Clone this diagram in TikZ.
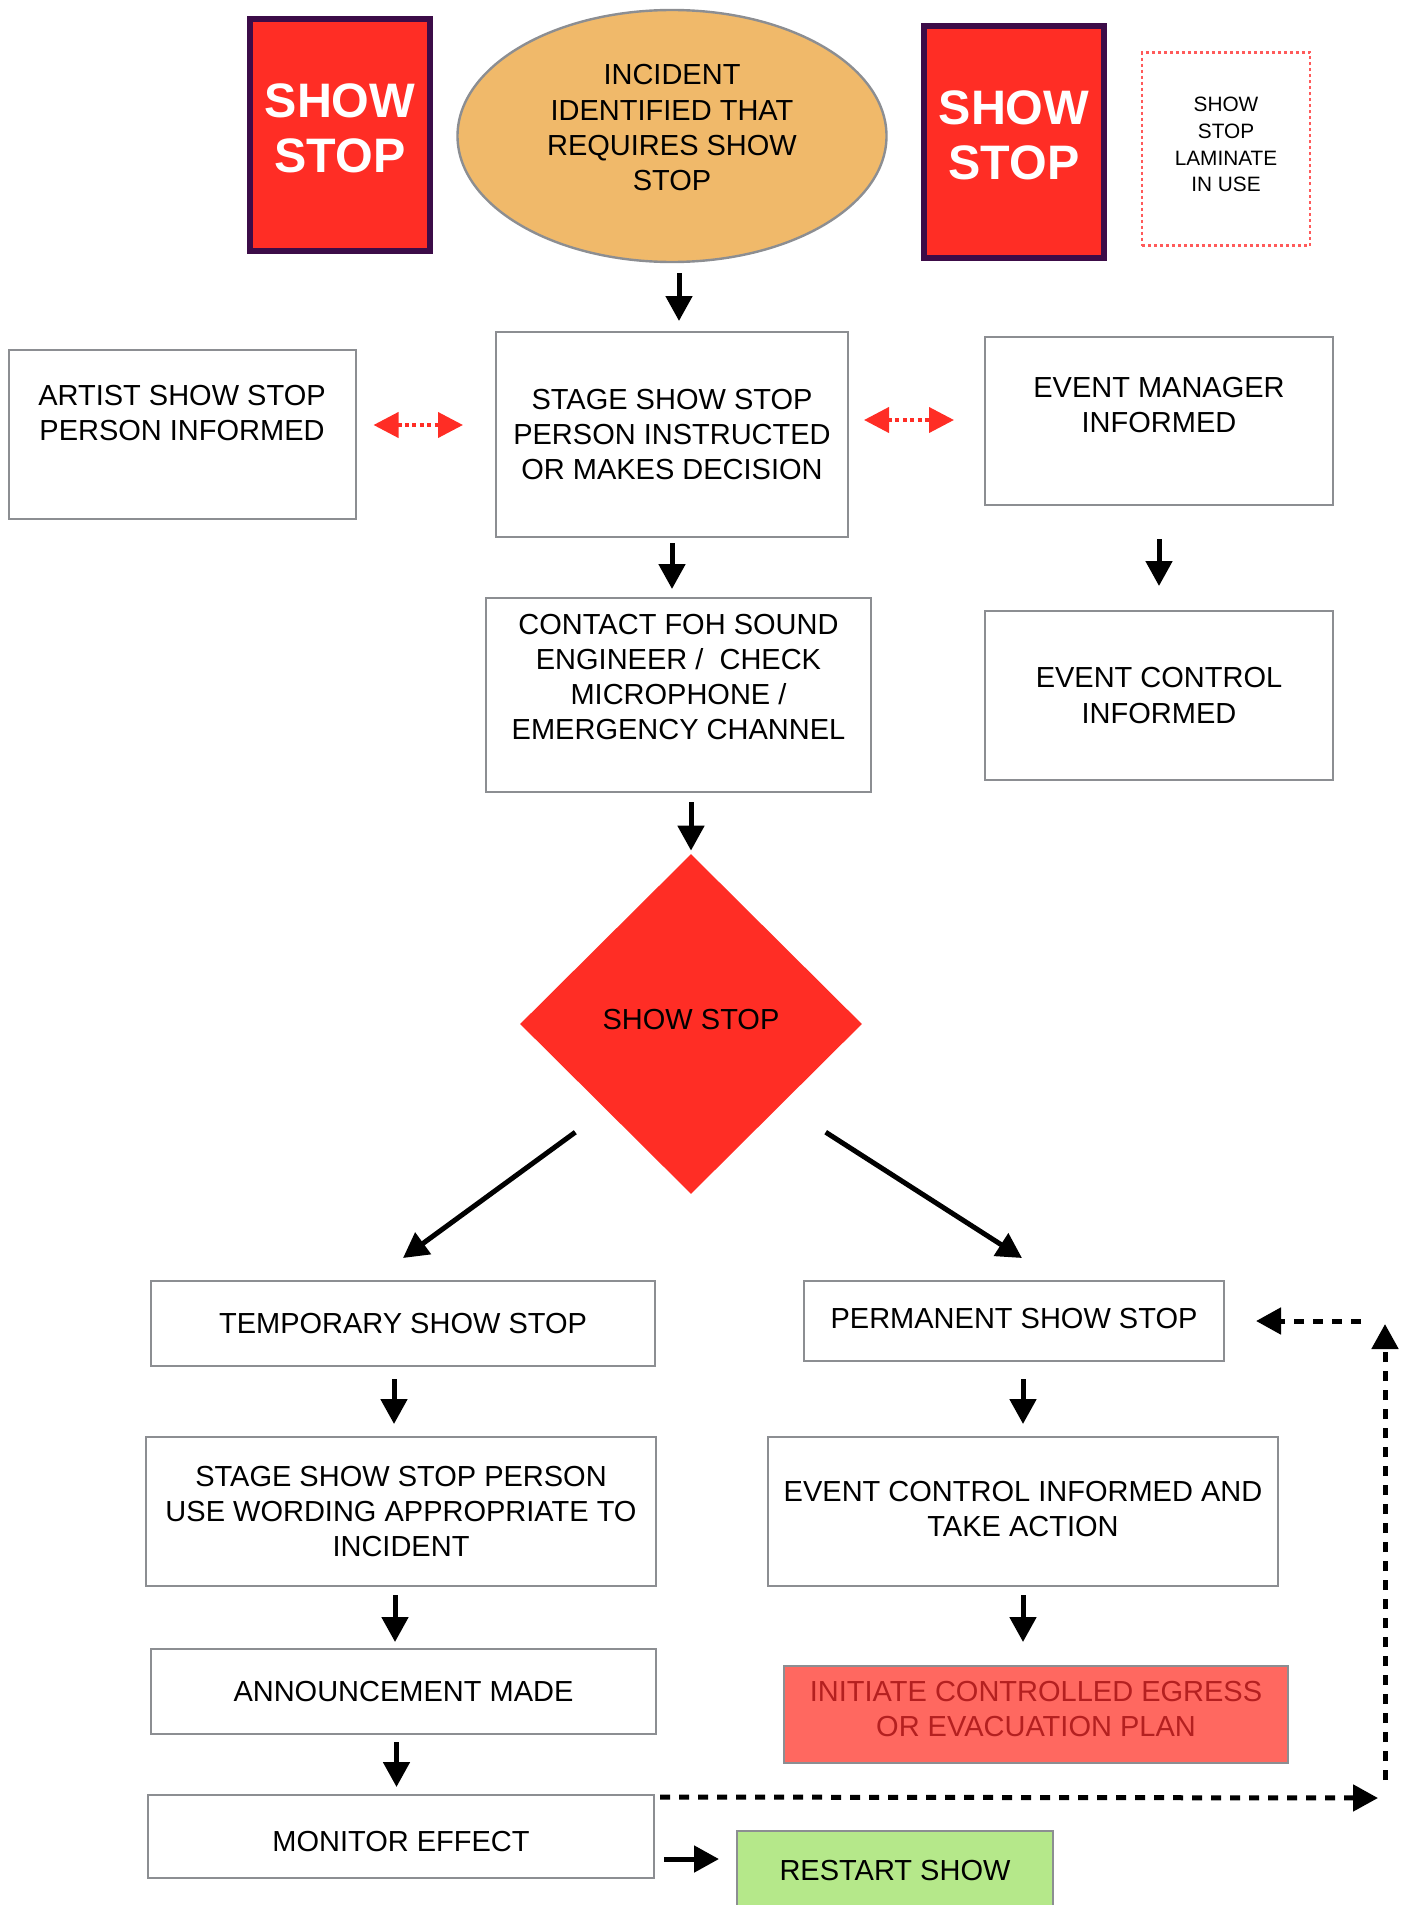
\documentclass[tikz,border=0pt]{standalone}
\usepackage{fontspec}
\setmainfont{Liberation Sans}
\usetikzlibrary{shapes.geometric,arrows.meta,positioning}
\definecolor{StopRed}{RGB}{255,45,37}
\definecolor{SignPurple}{RGB}{60,12,72}
\definecolor{BoxGray}{RGB}{140,142,146}
\definecolor{IncidentOrange}{RGB}{240,185,106}
\definecolor{EgressRed}{RGB}{255,104,96}
\definecolor{EgressText}{RGB}{180,32,32}
\definecolor{RestartGreen}{RGB}{181,232,138}
\definecolor{LaminateRed}{RGB}{255,90,90}

\begin{document}
\begin{tikzpicture}[
    x=0.5pt, y=-0.5pt,
    txt/.style={align=center, inner sep=0pt, font=\fontsize{14.5}{17.6}\selectfont},
    box/.style={txt, draw=BoxGray, line width=1pt, rectangle},
    sign/.style={draw=SignPurple, line width=2.8pt, fill=StopRed, text=white, align=center, inner sep=0pt, minimum width=90pt, minimum height=116pt, font=\fontsize{24.2}{27.5}\selectfont\bfseries, text depth=7pt},
    arrow/.style={-{Triangle[length=12.5pt,width=13pt]}, line width=2.5pt, black},
    dasharrow/.style={arrow, dash pattern=on 5pt off 4.5pt},
    redarrow/.style={{Triangle[length=12.5pt,width=12.5pt]}-{Triangle[length=12.5pt,width=12.5pt]}, line width=2pt, StopRed, dash pattern=on 2pt off 1.7pt}
  ]
    \useasboundingbox (0,0) rectangle (1407,1905);

    \node[sign] (signleft) at (340,135) {SHOW\\STOP};
    \node[txt, ellipse, draw=BoxGray, line width=1.2pt, fill=IncidentOrange, minimum width=214.5pt, minimum height=126pt, text depth=8.5pt] (incident) at (672,136) {INCIDENT\\IDENTIFIED THAT\\REQUIRES SHOW\\STOP};
    \node[sign] (signright) at (1014,142) {SHOW\\STOP};
    \node[align=center, inner sep=0pt, draw=LaminateRed, line width=1.2pt, dash pattern=on 1.5pt off 1.5pt, minimum width=84pt, minimum height=96.5pt, font=\fontsize{10.4}{13.3}\selectfont, text depth=4.4pt] (laminate) at (1226,149) {SHOW\\STOP\\LAMINATE\\IN USE};

    \node[box, minimum width=173.5pt, minimum height=84.5pt, text depth=21pt] (artist) at (182,434) {ARTIST SHOW STOP\\PERSON INFORMED};
    \node[box, minimum width=176pt, minimum height=102.5pt] (stage) at (672,434.5) {STAGE SHOW STOP\\PERSON INSTRUCTED\\OR MAKES DECISION};
    \node[box, minimum width=174pt, minimum height=84pt, text depth=16pt] (manager) at (1159,421) {EVENT MANAGER\\INFORMED};
    \node[box, minimum width=192.5pt, minimum height=97pt, text depth=18pt] (contact) at (678.5,695) {CONTACT FOH SOUND\\ENGINEER /\ \ CHECK\\MICROPHONE /\\EMERGENCY CHANNEL};
    \node[box, minimum width=174pt, minimum height=84.5pt] (control) at (1159,695.5) {EVENT CONTROL\\INFORMED};
    \node[txt, diamond, fill=StopRed, minimum width=171pt, minimum height=170pt, text depth=5pt] (showstop) at (691,1024) {SHOW STOP};

    \node[box, minimum width=252pt, minimum height=42.5pt] (temporary) at (403,1323.5) {TEMPORARY SHOW STOP};
    \node[box, minimum width=255pt, minimum height=74.5pt] (wording) at (401,1511.5) {STAGE SHOW STOP PERSON\\USE WORDING APPROPRIATE TO\\INCIDENT};
    \node[box, minimum width=252.5pt, minimum height=42.5pt] (announce) at (403.5,1691.5) {ANNOUNCEMENT MADE};
    \node[box, minimum width=253pt, minimum height=41.5pt, text height=15pt] (monitor) at (401,1836.5) {MONITOR EFFECT};
    \node[box, fill=RestartGreen, minimum width=158pt, minimum height=39pt] (restart) at (895,1870) {RESTART SHOW};
    \node[box, minimum width=210pt, minimum height=40pt, text depth=3pt] (permanent) at (1014,1321) {PERMANENT SHOW STOP};
    \node[box, minimum width=255pt, minimum height=74.5pt, text depth=3pt] (action) at (1023,1511.5) {EVENT CONTROL INFORMED AND\\TAKE ACTION};
    \node[box, fill=EgressRed, text=EgressText, minimum width=252pt, minimum height=48.5pt, text depth=6pt] (egress) at (1036,1714.5) {INITIATE CONTROLLED EGRESS\\OR EVACUATION PLAN};

    \coordinate (loopright) at (1378,1798);
    \coordinate (loopbottom) at (1385,1780);
    \coordinate (looptop) at (1385,1324);
    \coordinate (loopleft) at (1361,1321);

    \draw[arrow, shorten <=5pt, shorten >=5pt] ([xshift=3.5pt]incident.south) -- ([xshift=3.5pt]stage.north);
    \draw[redarrow, shorten <=8.5pt, shorten >=16pt] ([yshift=4.5pt]artist.east) -- ([yshift=4.75pt]stage.west);
    \draw[redarrow, shorten <=7.5pt, shorten >=15pt] ([yshift=7.25pt]stage.east) -- ([yshift=0.5pt]manager.west);
    \draw[arrow, shorten <=2.5pt, shorten >=4pt] (stage.south) -- (stage.south |- contact.north);
    \draw[arrow, shorten <=16.5pt, shorten >=12pt] (manager.south) -- (control.north);
    \draw[arrow, shorten <=4.5pt, shorten >=1.5pt] (showstop.north |- contact.south) -- (showstop.north);
    \draw[arrow] ([shift={(-30,23)}]showstop.south west) -- ([shift={(0,-22)}]temporary.north);
    \draw[arrow] ([shift={(49,23)}]showstop.south east) -- ([shift={(8,-22)}]permanent.north);
    \draw[arrow, shorten <=6pt, shorten >=6pt] ([xshift=-4.5pt]temporary.south) -- ([xshift=-4.5pt]temporary.south |- wording.north);
    \draw[arrow, shorten <=4pt, shorten >=3pt] ([xshift=-3pt]wording.south) -- ([xshift=-3pt]wording.south |- announce.north);
    \draw[arrow, shorten <=3.5pt, shorten >=3.5pt] ([xshift=-3.5pt]announce.south) -- ([xshift=-3.5pt]announce.south |- monitor.north);
    \draw[arrow, shorten <=4.5pt, shorten >=8.5pt] ([yshift=-11.25pt]monitor.east) -- ([yshift=-11.25pt]monitor.east -| restart.west);
    \draw[arrow, shorten <=8.5pt, shorten >=6pt] (action.north |- permanent.south) -- (action.north);
    \draw[arrow, shorten <=4pt, shorten >=11.5pt] (action.south) -- (action.south |- egress.north);

    \draw[dasharrow] ([shift={(5,3)}]monitor.north east) -- (loopright);
    \draw[dasharrow] (loopbottom) -- (looptop);
    \draw[dasharrow, shorten >=15.5pt] (loopleft) -- (loopleft -| permanent.east);
  \end{tikzpicture}
\end{document}
